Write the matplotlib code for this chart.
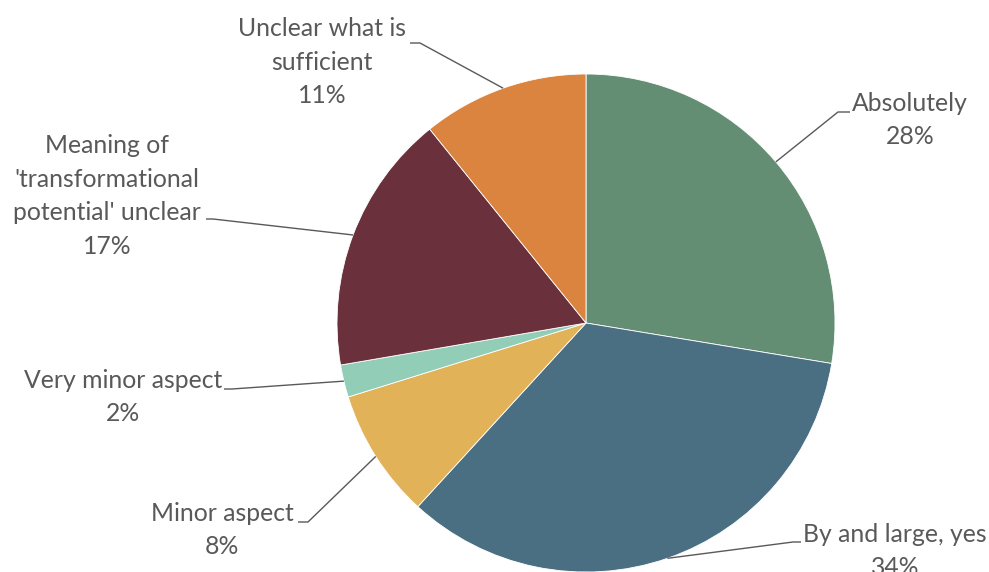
import matplotlib
matplotlib.use('Agg')
import matplotlib.pyplot as plt
import numpy as np

# --- data ---
categories = ['Absolutely', 'By and large, yes', 'Minor aspect', 'Very minor aspect',
              "Meaning of\n'transformational\npotential' unclear", 'Unclear what is\nsufficient']
shares = [27.6, 34.2, 8.4, 2.1, 16.9, 10.8]
colors = ['#648E74', '#4A6E82', '#E1B258', '#92CDB7', '#6A303C', '#DB843F']

# label layout (pixel coords in the 989x572 image): text centre, elbow, elbow end
label_pos = [(910, 120), (895, 551), (222, 530), (123, 397), (107, 196), (322, 62)]
elbows = [((838, 112), (850, 112)), ((793, 542), (801, 542)), ((308, 522), (298, 522)),
          ((232, 389), (224, 389)), ((213, 219), (206, 219)), ((420, 43), (410, 43))]

W, H = 989, 572
CX, CY, R = 586, 323, 249

plt.rcParams['font.family'] = ['Lato', 'DejaVu Sans']

fig = plt.figure(figsize=(W / 100, H / 100), dpi=100, facecolor='white')
ax = fig.add_axes([0, 0, 1, 1])


def px(x, y):
    return (x - CX) / R, (CY - y) / R


wedges, _ = ax.pie(shares, colors=colors, startangle=90, counterclock=False, radius=1,
                   wedgeprops=dict(edgecolor='white', linewidth=0.6))

for w, cat, v, pos, (elb, end) in zip(wedges, categories, shares, label_pos, elbows):
    mid = np.deg2rad((w.theta1 + w.theta2) / 2)
    ex, ey = np.cos(mid), np.sin(mid)
    bx, by = px(*elb)
    hx, hy = px(*end)
    ax.plot([ex, bx, hx], [ey, by, hy], color='#595959', lw=1.0, solid_capstyle='butt')
    tx, ty = px(*pos)
    ax.text(tx, ty, f'{cat}\n{v:.0f}%', ha='center', va='center', multialignment='center',
            fontsize=17.8, color='#595959', linespacing=1.55)

ax.set_xlim(-CX / R, (W - CX) / R)
ax.set_ylim((CY - H) / R, CY / R)
ax.set_aspect('auto')
ax.axis('off')

fig.savefig('out.png', dpi=100, facecolor='white')
